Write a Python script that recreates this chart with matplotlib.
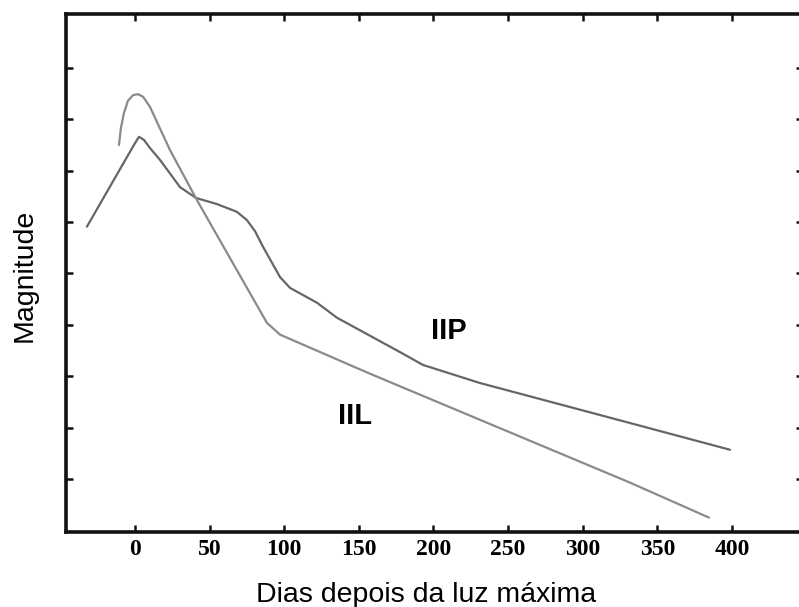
#!/usr/bin/env python3

import matplotlib
matplotlib.use("Agg")
import matplotlib.pyplot as plt

# light curves of type II supernovae (relative magnitude, axis inverted)
# values
iip_days = [-32.2, -0.7, 2.7, 6.0, 10.1, 16.8, 30.2, 40.9, 55.0, 68.3,
            75.0, 80.5, 85.8, 97.2, 103.9, 122.0, 135.3, 177.6, 193.0, 231.0,
            331.7, 398.7]
iip_mag = [3.09, 1.50, 1.34, 1.40, 1.56, 1.79, 2.32, 2.53, 2.65, 2.80,
           2.96, 3.18, 3.48, 4.07, 4.28, 4.57, 4.86, 5.53, 5.78, 6.13,
           6.91, 7.43]

iil_days = [-10.7, -9.4, -7.4, -4.7, -1.3, 2.0, 5.4, 10.1, 23.5, 41.5, 88.4,
            97.2, 148.7, 164.0, 331.7, 384.6]
iil_mag = [1.50, 1.17, 0.88, 0.64, 0.53, 0.51, 0.56, 0.76, 1.60, 2.57, 4.96,
           5.19, 5.84, 6.03, 8.07, 8.75]

x_ticks = [0, 50, 100, 150, 200, 250, 300, 350, 400]
y_ticks = [0, 1, 2, 3, 4, 5, 6, 7, 8]

fig = plt.figure(figsize=(7.99, 6.07), dpi=100)
# right spine falls just outside the picture, as in the original scan
ax = fig.add_axes([0.0826, 0.1236, 0.9224, 0.8534])

ax.plot(iip_days, iip_mag, color='#666666', lw=1.6, solid_capstyle='round')
ax.plot(iil_days, iil_mag, color='#8a8a8a', lw=1.6, solid_capstyle='round')

ax.text(210.4, 5.12, "IIP", fontsize=21, fontweight='bold',
        family='Liberation Sans', ha='center', va='center')
ax.text(147.4, 6.78, "IIL", fontsize=21, fontweight='bold',
        family='Liberation Sans', ha='center', va='center')

ax.set_xlim(-46.2, 447.6)
ax.set_ylim(9.03, -1.05)

ax.set_xticks(x_ticks)
ax.set_xticklabels([str(t) for t in x_ticks], family='Liberation Serif',
                   fontweight='bold', fontsize=17)
ax.set_yticks(y_ticks)
ax.set_yticklabels([])
ax.tick_params(direction='in', length=5, width=1.8, top=True, right=True,
               pad=5, color='#111111')
ax.tick_params(axis='y', which='both', right=True)

for s in ax.spines.values():
    s.set_linewidth(2.6)
    s.set_color('#111111')
ax.spines['right'].set_visible(False)

fig.text(0.533, 0.0082, "Dias depois da luz máxima", family='Liberation Sans',
         fontsize=20.5, ha='center', va='baseline')
fig.text(0.031, 0.547, "Magnitude", family='Liberation Sans', fontsize=20.5,
         rotation=90, ha='center', va='center')

fig.savefig("out.png", dpi=100)
